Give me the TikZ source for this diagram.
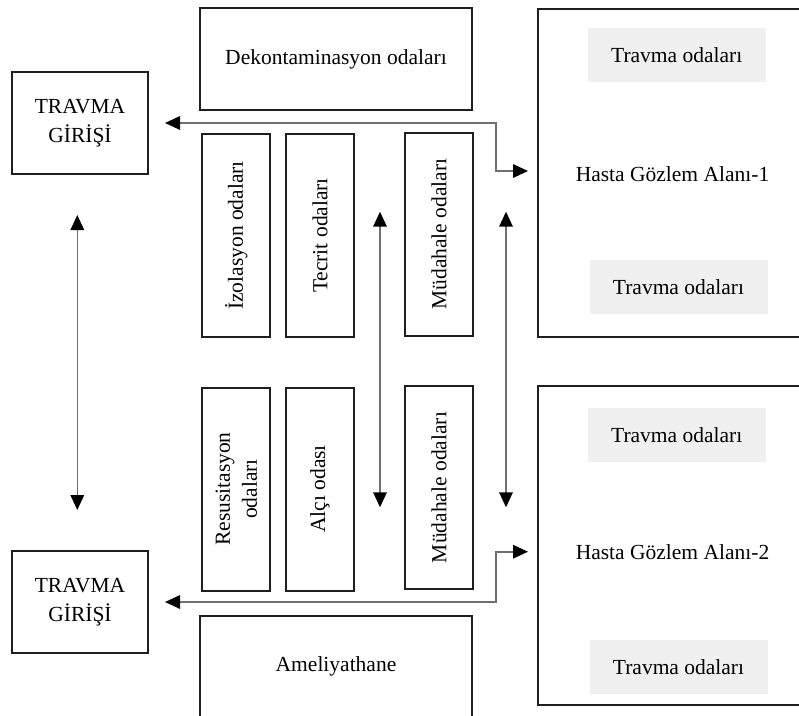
\documentclass[tikz,border=0pt]{standalone}
\usepackage{fontspec}
\setmainfont{Liberation Serif}
\usetikzlibrary{arrows.meta,calc}
\definecolor{trfill}{HTML}{F0F0F0}
\definecolor{linegray}{HTML}{707070}
\begin{document}
\begin{tikzpicture}[x=1pt,y=-1pt,
  every node/.style={font=\fontsize{21.5}{27}\selectfont, inner sep=0pt},
  box/.style={draw=black!88, line width=2pt, rectangle, align=center},
  rot/.style={box, rotate=90, minimum width=203pt, minimum height=68pt},
  trbox/.style={fill=trfill, rectangle, minimum width=178pt, minimum height=54.5pt},
  conn/.style={draw=linegray, line width=1.6pt,
    {Triangle[length=15pt,width=13.5pt,color=black]}-{Triangle[length=15pt,width=13.5pt,color=black]}}
]
\useasboundingbox (0,0) rectangle (799,715);
\clip (0,0) rectangle (799,715);

% entrances
\node[box, minimum width=136pt, minimum height=102pt, font=\fontsize{21.5}{29}\selectfont] (tg1) at (80,123) {TRAVMA\\GİRİŞİ};
\node[box, minimum width=136pt, minimum height=102pt, font=\fontsize{21.5}{29}\selectfont] (tg2) at (80,602) {TRAVMA\\GİRİŞİ};

% wide boxes
\node[box, minimum width=272pt, minimum height=102pt] (dek) at (336,59) {Dekontaminasyon odaları};
\node[box, minimum width=272pt, minimum height=102pt] (ame) at (336,666.5) {Ameliyathane};

% rooms (rotated)
\node[rot] (izo) at (236.3,235.5) {İzolasyon odaları};
\node[rot] (tec) at (320,235.5) {Tecrit odaları};
\node[rot] (mud1) at (439,234) {Müdahale odaları};
\node[rot] (res) at (236.3,489) {Resusitasyon\\odaları};
\node[rot] (alc) at (320,489) {Alçı odası};
\node[rot] (mud2) at (439,487.5) {Müdahale odaları};

% observation areas
\node[box, minimum width=271pt, minimum height=327.5pt] (hga1) at (673,172.75) {};
\node[box, minimum width=271pt, minimum height=319pt] (hga2) at (673,545.5) {};
\node (hga1t) at (672.5,174.3) {Hasta Gözlem Alanı-1};
\node (hga2t) at (672.5,551.7) {Hasta Gözlem Alanı-2};
\node[trbox] (tr1) at (676.7,55) {Travma odaları};
\node[trbox] (tr2) at (678.5,287) {Travma odaları};
\node[trbox] (tr3) at (676.7,435) {Travma odaları};
\node[trbox] (tr4) at (678.5,667) {Travma odaları};

% connectors
\coordinate (j1) at (495.7,171);
\coordinate (j2) at (495.7,551.7);
\draw[conn, shorten <=16pt, shorten >=8.5pt] (tg1.east) -| (j1) -- (j1 -| hga1.west);
\draw[conn, shorten <=16pt, shorten >=8.5pt] (tg2.east) -| (j2) -- (j2 -| hga2.west);

\draw[conn, shorten <=40pt, shorten >=40pt] ([xshift=-2.7pt]tg1.south) -- ([xshift=-2.7pt]tg2.north);

\coordinate (m1a) at (380,211.7);
\coordinate (m1b) at (380,507.3);
\coordinate (m2a) at (506,211.7);
\coordinate (m2b) at (506,507.3);
\draw[conn] (m1a) -- (m1b);
\draw[conn] (m2a) -- (m2b);
\end{tikzpicture}
\end{document}
